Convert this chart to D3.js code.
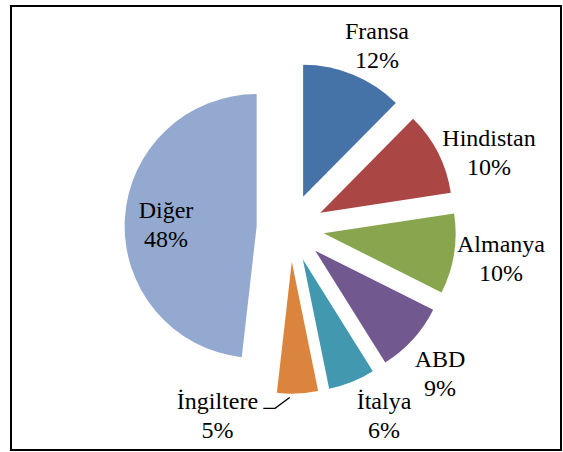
<!DOCTYPE html>
<html>
<head>
<meta charset="utf-8">
<script src="https://cdn.jsdelivr.net/npm/d3@7"></script>
<style>
  html, body { margin: 0; padding: 0; background: #fff; }
  svg { display: block; }
</style>
</head>
<body>
<script>
// ---- data ----
const categories = ["Fransa", "Hindistan", "Almanya", "ABD", "İtalya", "İngiltere", "Diğer"];
const values = [12.4, 10.2, 9.8, 8.7, 5.7, 5.0, 48.2];
const colors = ["#4572A7", "#AA4643", "#89A54E", "#71588F", "#4198AF", "#DB843D", "#93A9CF"];

// ---- layout ----
const W = 563, H = 452;
const cx = 290.3, cy = 228, R = 132, explode = 33.7;
const fontSize = 24, lineGap = 29;
const fontFamily = "Liberation Serif";
// label anchors (center x, first-line baseline y), layout only
const labelAnchor = {
  "Fransa": [377, 38.5],
  "Hindistan": [489, 146],
  "Almanya": [501, 252],
  "ABD": [440, 367],
  "İtalya": [384, 409],
  "İngiltere": [217.5, 408.7],
  "Diğer": [166, 217.7]
};

const svg = d3.select("body").append("svg").attr("width", W).attr("height", H);

svg.append("rect")
  .attr("x", 11).attr("y", 6).attr("width", 550).attr("height", 444)
  .attr("fill", "#fff").attr("stroke", "#000").attr("stroke-width", 2);

const data = categories.map((c, i) => ({ name: c, value: values[i], color: colors[i] }));
const pie = d3.pie().value(d => d.value).sort(null).startAngle(0).endAngle(2 * Math.PI);
const arcs = pie(data);
const arc = d3.arc().innerRadius(0).outerRadius(R);

const g = svg.append("g").attr("transform", `translate(${cx},${cy})`);
g.selectAll("path").data(arcs).join("path")
  .attr("d", arc)
  .attr("fill", d => d.data.color)
  .attr("transform", d => {
    const a = (d.startAngle + d.endAngle) / 2;
    return `translate(${explode * Math.sin(a)},${-explode * Math.cos(a)})`;
  });

const total = d3.sum(values);
arcs.forEach(d => {
  const [x, y] = labelAnchor[d.data.name];
  const t = svg.append("text")
    .attr("text-anchor", "middle")
    .attr("font-size", fontSize)
    .attr("font-family", fontFamily)
    .attr("fill", "#000");
  t.append("tspan").attr("x", x).attr("y", y).text(d.data.name);
  t.append("tspan").attr("x", x).attr("y", y + lineGap)
    .text(Math.round(d.data.value / total * 100) + "%");
});

// leader line for İngiltere
const ing = arcs[5];
const ia = (ing.startAngle + ing.endAngle) / 2;
const ex = cx + explode * Math.sin(ia), ey = cy - explode * Math.cos(ia);
const px = ex + (R + 2) * Math.sin(ia) - 8, py = ey - (R + 2) * Math.cos(ia) + 2;
svg.append("path")
  .attr("d", `M${px},${py} L275,408.3 L263.3,408.3`)
  .attr("fill", "none").attr("stroke", "#000").attr("stroke-width", 1.3);
</script>
</body>
</html>
